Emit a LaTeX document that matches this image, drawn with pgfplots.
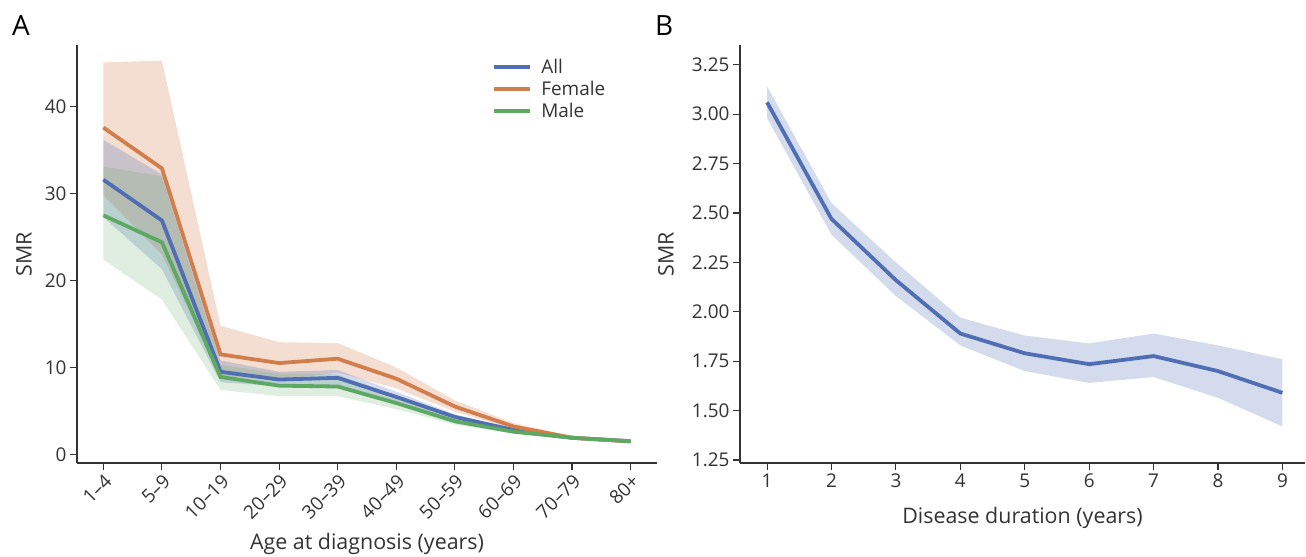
\documentclass[border=0pt]{standalone}
\usepackage{fontspec}
\setmainfont{Open Sans}
\usepackage{pgfplots}
\pgfplotsset{compat=1.18}
\usepgfplotslibrary{fillbetween}
\definecolor{cAll}{HTML}{4F6EB3}
\definecolor{cFem}{HTML}{D27D4C}
\definecolor{cMale}{HTML}{5DA862}
\definecolor{axgray}{HTML}{333333}

\pgfplotsset{
  panel/.style={
    scale only axis,
    anchor=south west,
    axis lines=left,
    axis line style={-, axgray, line width=1.3bp},
    tick align=outside,
    major tick length=7bp,
    tick style={axgray, line width=1.1bp},
    ticklabel style={font=\fontsize{19}{21}\selectfont, text=axgray},
    /pgf/number format/assume math mode=true,
  },
  ylab/.style={every axis y label/.style={at={(rel axis cs:0,0.5)}, xshift=#1, rotate=90,
      anchor=center, font=\fontsize{21.5}{24}\selectfont, text=axgray}},
  xlab/.style={every axis x label/.style={at={(rel axis cs:0.5,0)}, anchor=center, yshift=#1,
      font=\fontsize{21.5}{24}\selectfont, text=axgray}},
  ciband/.style={draw=none, forget plot},
}

\begin{document}
\begin{tikzpicture}

% panel A
\begin{axis}[panel, ylab=-53bp, xlab=-81bp,
  at={(77bp,94bp)}, width=580bp, height=418bp,
  xmin=-0.45, xmax=9.45, ymin=-1, ymax=47.1,
  xtick={0,...,9},
  xticklabels={1–4,5–9,10–19,20–29,30–39,40–49,50–59,60–69,70–79,80+},
  xticklabel style={rotate=45, anchor=north east, inner sep=2pt},
  ytick={0,10,20,30,40},
  xlabel={Age at diagnosis (years)},
  ylabel={SMR},
  legend style={at={(0.71,0.975)}, anchor=north west, draw=none, fill=none,
    font=\fontsize{19}{21}\selectfont, text=axgray, row sep=3bp,
    nodes={inner sep=1.5bp},
    /tikz/every odd column/.style={column sep=8bp}},
  legend cell align=left,
  legend image code/.code={\draw[#1, line width=3.8bp] (0bp,0bp) -- (36bp,0bp);},
]
% confidence bands
\addplot[ciband, name path=fu] coordinates {(0,45.1)(1,45.3)(2,14.8)(3,12.9)(4,12.8)(5,10.0)(6,6.2)(7,3.6)(8,2.1)(9,1.6)};
\addplot[ciband, name path=fl] coordinates {(0,29.8)(1,23.0)(2,9.0)(3,8.6)(4,9.4)(5,7.6)(6,4.9)(7,2.9)(8,1.75)(9,1.4)};
\addplot[fill=cFem, fill opacity=0.25, forget plot] fill between[of=fu and fl];
\addplot[ciband, name path=au] coordinates {(0,36.2)(1,32.2)(2,10.8)(3,9.5)(4,9.7)(5,7.2)(6,4.6)(7,3.0)(8,2.0)(9,1.55)};
\addplot[ciband, name path=al] coordinates {(0,27.3)(1,21.3)(2,8.3)(3,7.8)(4,7.9)(5,6.0)(6,4.0)(7,2.6)(8,1.8)(9,1.45)};
\addplot[fill=cAll, fill opacity=0.25, forget plot] fill between[of=au and al];
\addplot[ciband, name path=mu] coordinates {(0,33.1)(1,32.0)(2,10.3)(3,9.3)(4,9.2)(5,6.7)(6,4.2)(7,2.9)(8,2.0)(9,1.6)};
\addplot[ciband, name path=ml] coordinates {(0,22.4)(1,17.8)(2,7.4)(3,6.7)(4,6.7)(5,5.2)(6,3.4)(7,2.4)(8,1.8)(9,1.4)};
\addplot[fill=cMale, fill opacity=0.2, forget plot] fill between[of=mu and ml];
% lines
\addplot[cAll, line width=3.8bp] coordinates {(0,31.6)(1,26.9)(2,9.5)(3,8.6)(4,8.8)(5,6.6)(6,4.3)(7,2.8)(8,1.9)(9,1.5)};
\addlegendentry{All}
\addplot[cFem, line width=3.8bp] coordinates {(0,37.6)(1,32.9)(2,11.5)(3,10.5)(4,11.0)(5,8.7)(6,5.5)(7,3.2)(8,1.9)(9,1.5)};
\addlegendentry{Female}
\addplot[cMale, line width=3.8bp] coordinates {(0,27.5)(1,24.4)(2,8.9)(3,7.9)(4,7.8)(5,5.9)(6,3.8)(7,2.6)(8,1.9)(9,1.5)};
\addlegendentry{Male}
\end{axis}

% panel B
\begin{axis}[panel, ylab=-74bp, xlab=-55bp,
  at={(740bp,94bp)}, width=565bp, height=418bp,
  xmin=0.58, xmax=9.35, ymin=1.235, ymax=3.35,
  xtick={1,...,9},
  ytick={1.25,1.5,1.75,2,2.25,2.5,2.75,3,3.25},
  yticklabel style={/pgf/number format/.cd, fixed, fixed zerofill, precision=2},
  xlabel={Disease duration (years)},
  ylabel={SMR},
]
\addplot[ciband, name path=bu] coordinates {(1,3.14)(2,2.55)(3,2.25)(4,1.97)(5,1.88)(6,1.84)(7,1.89)(8,1.83)(9,1.76)};
\addplot[ciband, name path=bl] coordinates {(1,2.98)(2,2.39)(3,2.08)(4,1.83)(5,1.70)(6,1.64)(7,1.67)(8,1.565)(9,1.42)};
\addplot[fill=cAll, fill opacity=0.25, forget plot] fill between[of=bu and bl];
\addplot[cAll, line width=3.8bp] coordinates {(1,3.06)(2,2.47)(3,2.16)(4,1.89)(5,1.79)(6,1.735)(7,1.776)(8,1.70)(9,1.59)};
\end{axis}

\node[anchor=north west, inner sep=0pt, font=\fontsize{28}{30}\selectfont] at (12bp,542bp) {A};
\node[anchor=north west, inner sep=0pt, font=\fontsize{28}{30}\selectfont] at (655bp,542bp) {B};

\pgfresetboundingbox
\path[use as bounding box] (0bp,0bp) rectangle (1306bp,557bp);
\end{tikzpicture}
\end{document}
